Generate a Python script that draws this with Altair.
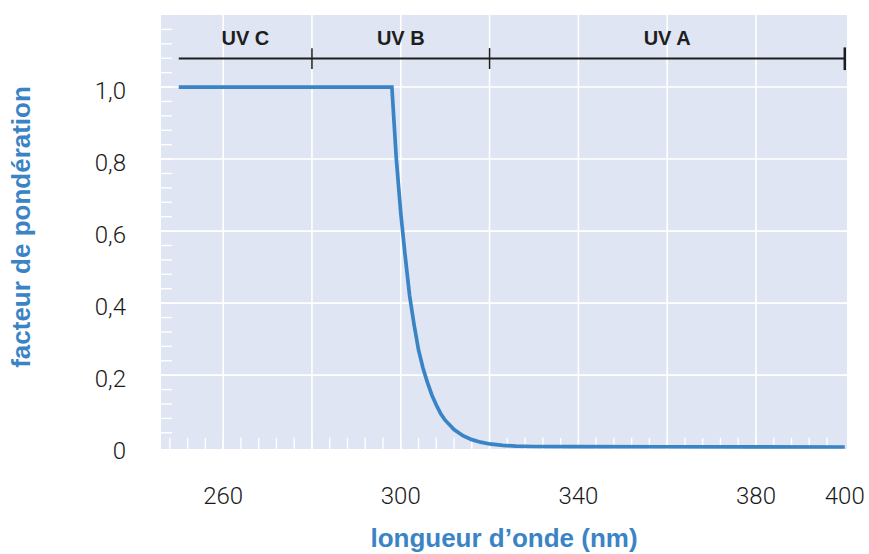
import altair as alt
import pandas as pd

# curve
wavelength = [250, 298, 299, 300, 301, 302, 303, 304, 305, 306, 307, 308, 309, 310,
              312, 314, 316, 318, 320, 323, 326, 330, 340, 360, 380, 400]
factor = [1.0, 1.0, 0.80, 0.65, 0.53, 0.42, 0.34, 0.27, 0.22, 0.18, 0.145, 0.117, 0.093, 0.075,
          0.049, 0.032, 0.021, 0.014, 0.009, 0.005, 0.003, 0.002, 0.0017, 0.0012, 0.0008, 0.0005]

x_tick_values = [260, 300, 340, 380, 400]
x_tick_text = ["260", "300", "340", "380", "400"]
y_tick_values = [0, 0.2, 0.4, 0.6, 0.8, 1.0]
y_tick_text = ["0", "0,2", "0,4", "0,6", "0,8", "1,0"]
grid_x = [260, 280, 300, 320, 340, 360, 380]
grid_y = [0.2, 0.4, 0.6, 0.8, 1.0]
minor_x = [248, 252, 256, 260, 264, 268, 272, 276, 280, 284, 288, 292, 296, 300, 304, 308,
           312, 316, 320, 324, 328, 332, 336, 340, 344, 348, 352, 356, 360, 364, 368, 372,
           376, 380, 384, 388, 392, 396]
minor_y = [0.04, 0.08, 0.12, 0.16, 0.2, 0.24, 0.28, 0.32, 0.36, 0.4, 0.44, 0.48, 0.52, 0.56,
           0.6, 0.64, 0.68, 0.72, 0.76, 0.8, 0.84, 0.88, 0.92, 0.96, 1.0, 1.04, 1.08, 1.12, 1.16]

band_names = ["UV C", "UV B", "UV A"]
band_start = [250, 280, 320]
band_end = [280, 320, 400]
band_center = [265, 300, 360]
band_level = 1.079
band_label_level = 1.134

x_title = "longueur d\u2019onde (nm)"
y_title = "facteur de pond\u00e9ration"

BLUE = "#3a84c6"
BG = "#dfe5f2"
X_DOM = [246, 400.5]
Y_DOM = [-0.005, 1.2]
LABEL_FONT = "Roboto"
BOLD_FONT = "Liberation Sans"

xs = alt.Scale(domain=X_DOM, nice=False, zero=False)
ys = alt.Scale(domain=Y_DOM, nice=False, zero=False)

curve = pd.DataFrame({"wl": wavelength, "f": factor})
gx = pd.DataFrame({"x": grid_x})
gy = pd.DataFrame({"y": grid_y})
mx = pd.DataFrame({"x": minor_x, "y1": [-0.005] * len(minor_x), "y2": [0.026] * len(minor_x)})
my = pd.DataFrame({"y": minor_y, "x1": [X_DOM[0]] * len(minor_y), "x2": [248.5] * len(minor_y)})
bands = pd.DataFrame({"name": band_names, "start": band_start, "end": band_end,
                      "center": band_center,
                      "level": [band_level] * 3, "lab": [band_label_level] * 3})
seps = pd.DataFrame({"x": band_end[:-1], "y1": [1.05, 1.05], "y2": [1.108, 1.108]})
endbar = pd.DataFrame({"x": band_end[-1:], "y1": [1.047], "y2": [1.11]})
xlab = pd.DataFrame({"v": x_tick_values, "t": x_tick_text})
ylab = pd.DataFrame({"v": y_tick_values, "t": y_tick_text})
ytit = pd.DataFrame({"t": [y_title]})
xtit = pd.DataFrame({"t": [x_title]})

X = lambda f: alt.X(f, scale=xs, axis=None)
Y = lambda f: alt.Y(f, scale=ys, axis=None)

grid_v = alt.Chart(gx).mark_rule(color="white", strokeWidth=1.6).encode(x=X("x:Q"))
grid_h = alt.Chart(gy).mark_rule(color="white", strokeWidth=1.6).encode(y=Y("y:Q"))
ticks_x = alt.Chart(mx).mark_rule(color="white", strokeWidth=1.4).encode(
    x=X("x:Q"), y=Y("y1:Q"), y2="y2:Q")
ticks_y = alt.Chart(my).mark_rule(color="white", strokeWidth=1.4).encode(
    y=Y("y:Q"), x=X("x1:Q"), x2="x2:Q")

band_line = alt.Chart(bands).mark_rule(color="#1e1e1e", strokeWidth=2).encode(
    x=X("start:Q"), x2="end:Q", y=Y("level:Q"))
band_seps = alt.Chart(seps).mark_rule(color="#1e1e1e", strokeWidth=1.5).encode(
    x=X("x:Q"), y=Y("y1:Q"), y2="y2:Q")
band_end_bar = alt.Chart(endbar).mark_rule(color="#1e1e1e", strokeWidth=2.5).encode(
    x=X("x:Q"), y=Y("y1:Q"), y2="y2:Q")
band_text = alt.Chart(bands).mark_text(
    font=BOLD_FONT, fontSize=20, fontWeight="bold", color="#1e1e1e",
    align="center", baseline="middle").encode(
    x=X("center:Q"), y=Y("lab:Q"), text="name:N")

line = alt.Chart(curve).mark_line(color=BLUE, strokeWidth=3.7).encode(
    x=X("wl:Q"), y=Y("f:Q"))

# tick labels placed through the scales
x_labels = alt.Chart(xlab).mark_text(
    font=LABEL_FONT, fontWeight=300, fontSize=24, color="#1a1a1a",
    align="center", baseline="middle").encode(
    x=X("v:Q"), y=alt.value(482), text="t:N")
y_labels = alt.Chart(ylab).mark_text(
    font=LABEL_FONT, fontWeight=300, fontSize=24, color="#1a1a1a",
    align="right", baseline="middle", dy=5).encode(
    x=alt.value(-35), y=Y("v:Q"), text="t:N")
y_title_mark = alt.Chart(ytit).mark_text(
    font=BOLD_FONT, fontWeight="bold", fontSize=26, color=BLUE,
    align="center", baseline="middle", angle=270).encode(
    x=alt.value(-139), y=alt.value(212), text="t:N")
x_title_mark = alt.Chart(xtit).mark_text(
    font=BOLD_FONT, fontWeight="bold", fontSize=26, color=BLUE,
    align="center", baseline="alphabetic").encode(
    x=alt.value(343), y=alt.value(532), text="t:N")

chart = alt.layer(
    grid_v, grid_h, ticks_x, ticks_y, band_line, band_seps, band_end_bar,
    band_text, line, x_labels, y_labels, y_title_mark, x_title_mark
).properties(
    width=686, height=434,
    autosize=alt.AutoSizeParams(type="none"),
    padding={"left": 161, "top": 15, "right": 22, "bottom": 105},
    background="white",
).configure_view(fill=BG, stroke=None)

chart.save("out.html", embed_options={"renderer": "svg", "actions": False})
